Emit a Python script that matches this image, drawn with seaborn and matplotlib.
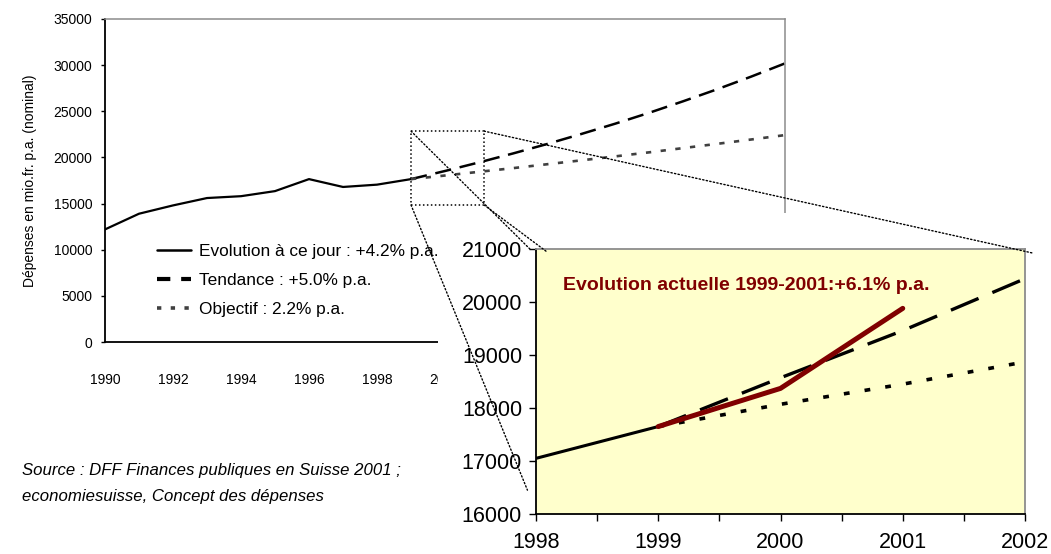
import matplotlib
matplotlib.use("Agg")
import matplotlib.pyplot as plt
import seaborn as sns
from matplotlib.lines import Line2D
from matplotlib.patches import Rectangle, ConnectionPatch

# données (mio. fr.)
annees_hist = [1990, 1991, 1992, 1993, 1994, 1995, 1996, 1997, 1998, 1999]
depenses_hist = [12200, 13900, 14800, 15600, 15800, 16350, 17650, 16800, 17050, 17650]

annees_proj = [1999, 2000, 2001, 2002, 2003, 2004, 2005, 2006, 2007, 2008, 2009, 2010]
tendance = [17650, 18530, 19460, 20430, 21450, 22530, 23650, 24830, 26080, 27380, 28750, 30190]
objectif = [17650, 18040, 18440, 18840, 19260, 19680, 20110, 20550, 21010, 21470, 21940, 22420]

# zoom 1998-2002
zoom_annees_hist = [1998, 1999]
zoom_hist = [17050, 17650]
zoom_annees = [1999, 2000, 2001, 2002]
zoom_tendance = [17650, 18570, 19460, 20440]
zoom_objectif = [17650, 18070, 18450, 18870]
annees_actuel = [1999, 2000, 2001]
actuel = [17650, 18370, 19880]

legende = ["Evolution à ce jour : +4.2% p.a.", "Tendance : +5.0% p.a.", "Objectif : 2.2% p.a."]
titre_zoom = "Evolution actuelle 1999-2001:+6.1% p.a."
source = ["Source : DFF Finances publiques en Suisse 2001 ;",
          "economiesuisse, Concept des dépenses"]

sns.set_theme(style="white")
plt.rcParams['font.family'] = ['Liberation Sans', 'DejaVu Sans']
plt.rcParams['text.color'] = 'black'
plt.rcParams['axes.labelcolor'] = 'black'

fig = plt.figure(figsize=(10.51, 5.54), dpi=100)

# --- graphique principal ---
ax = fig.add_axes([105/1051, 1-342/554, 680/1051, 323/554])
ax.set_zorder(0)
sns.lineplot(x=annees_hist, y=depenses_hist, ax=ax, color='black', linewidth=1.6)
sns.lineplot(x=annees_proj, y=tendance, ax=ax, color='black', linewidth=1.8,
             linestyle=(0, (6.5, 3.5)))
sns.lineplot(x=annees_proj, y=objectif, ax=ax, color='#404040', linewidth=1.9,
             linestyle=(0, (2, 3.6)))
ax.set_xlim(1990, 2010)
ax.set_ylim(0, 35000)
ax.set_xticks(range(1990, 2011, 2))
ax.set_yticks(range(0, 35001, 5000))
ax.tick_params(axis='x', length=0, pad=22, labelsize=10, colors='black')
ax.tick_params(axis='y', length=3, width=1, pad=6, labelsize=10, colors='black', left=True)
ax.set_ylabel("Dépenses en mio.fr. p.a. (nominal)", fontsize=10, labelpad=12)
for s in ['left', 'bottom']:
    ax.spines[s].set_color('black')
    ax.spines[s].set_linewidth(1.3)
for s in ['top', 'right']:
    ax.spines[s].set_color('#8c8c8c')
    ax.spines[s].set_linewidth(1.1)

# cadre pointillé du zoom
ax.add_patch(Rectangle((1999, 14850), 2.15, 8000, fill=False, edgecolor='black',
                       linewidth=1.1, linestyle=(0, (1, 1.6))))

handles = [
    Line2D([], [], color='black', linewidth=1.8),
    Line2D([], [], color='black', linewidth=3, linestyle=(0, (3.2, 2.6))),
    Line2D([], [], color='#404040', linewidth=2.6, linestyle=(0, (1.2, 2.6))),
]
ax.legend(handles, legende, loc='upper left', bbox_to_anchor=(157/1051, 1-244/554),
          bbox_transform=fig.transFigure, frameon=False, fontsize=12.4,
          handlelength=1.95, handletextpad=0.5, labelspacing=0.82,
          borderpad=0, borderaxespad=0)

# fond blanc sous le zoom
fig.add_artist(Rectangle((438/1051, 0), 1, 1-213/554, transform=fig.transFigure,
                         facecolor='white', edgecolor='none', zorder=1))

# --- zoom ---
ax2 = fig.add_axes([536/1051, 1-514/554, 489/1051, 265/554])
ax2.set_zorder(2)
ax2.set_facecolor('#ffffcc')
sns.lineplot(x=zoom_annees_hist, y=zoom_hist, ax=ax2, color='black', linewidth=2.2)
sns.lineplot(x=zoom_annees, y=zoom_tendance, ax=ax2, color='black', linewidth=2.4,
             linestyle=(0, (9, 4.5)))
sns.lineplot(x=zoom_annees, y=zoom_objectif, ax=ax2, color='black', linewidth=2.6,
             linestyle=(0, (1.6, 4.2)))
sns.lineplot(x=annees_actuel, y=actuel, ax=ax2, color='#800000', linewidth=3.6)
ax2.set_xlim(1998, 2002)
ax2.set_ylim(16000, 21000)
ax2.set_xticks(range(1998, 2003))
ax2.set_xticks([1998.5, 1999.5, 2000.5, 2001.5], minor=True)
ax2.set_yticks(range(16000, 21001, 1000))
ax2.tick_params(axis='both', which='both', direction='out', length=5, width=1,
                colors='black', labelsize=15.5, bottom=True, left=True)
ax2.tick_params(axis='x', which='major', pad=8)
ax2.tick_params(axis='y', pad=5)
ax2.set_xlabel("")
ax2.set_ylabel("")
for s in ['left', 'bottom']:
    ax2.spines[s].set_color('black')
    ax2.spines[s].set_linewidth(1.3)
for s in ['top', 'right']:
    ax2.spines[s].set_color('#8c8c8c')
    ax2.spines[s].set_linewidth(1.3)
ax2.text(0.055, 0.864, titre_zoom, transform=ax2.transAxes, color='#800000',
         fontsize=14, fontweight='bold', va='center', ha='left')

# lignes de liaison
liaisons = [((1999, 22850), (1997.95, 21000)),
            ((2001.15, 14850), (1998.09, 20945)),
            ((2001.15, 22850), (2002.06, 20925)),
            ((1999, 14850), (1997.93, 16450))]
for a, b in liaisons:
    cp = ConnectionPatch(xyA=a, coordsA=ax.transData, xyB=b, coordsB=ax2.transData,
                         color='black', linewidth=1.0, linestyle=(0, (1, 1.6)), zorder=3)
    fig.add_artist(cp)

fig.text(22/1051, 1-470/554, source[0], fontsize=12.1, style='italic', va='center')
fig.text(22/1051, 1-497/554, source[1], fontsize=12.1, style='italic', va='center')

fig.savefig("out.png", dpi=100)
